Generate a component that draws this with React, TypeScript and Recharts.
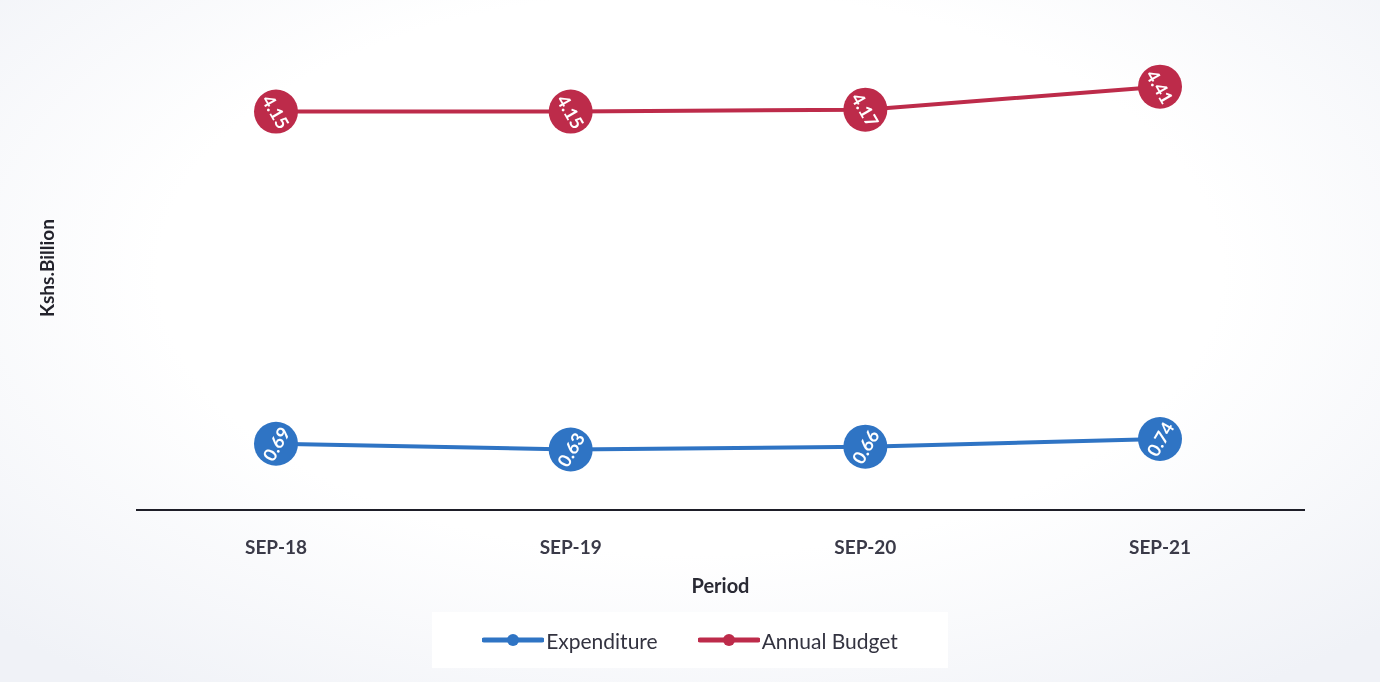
import React from "react";
import { LineChart, Line, XAxis, YAxis, Legend, Label } from "recharts";

const periods = ["SEP-18", "SEP-19", "SEP-20", "SEP-21"];
const expenditure = [0.69, 0.63, 0.66, 0.74];
const annualBudget = [4.15, 4.15, 4.17, 4.41];

const data = periods.map((p, i) => ({
  period: p,
  expenditure: expenditure[i],
  budget: annualBudget[i],
}));

const BLUE = "#2f74c4";
const RED = "#bd2b4a";
const FONT = "Lato, 'Open Sans', sans-serif";

const makeDot = (color: string, angle: number) => (props: any) => {
  const { cx, cy, value, index } = props;
  if (cx == null || cy == null) return null;
  return (
    <g key={`dot-${color}-${index}`}>
      <circle cx={cx} cy={cy} r={22} fill={color} />
      <text
        x={cx}
        y={cy}
        fill="#ffffff"
        fontSize={18}
        fontWeight={700}
        fontFamily={FONT}
        textAnchor="middle"
        dominantBaseline="central"
        transform={`rotate(${angle} ${cx} ${cy})`}
      >
        {Number(value).toFixed(2)}
      </text>
    </g>
  );
};

const LegendContent = (props: any) => {
  const items = [
    { label: "Expenditure", color: BLUE },
    { label: "Annual Budget", color: RED },
  ];
  return (
    <div
      style={{
        background: "#ffffff",
        width: 516,
        height: 56,
        display: "flex",
        alignItems: "center",
        justifyContent: "center",
        gap: 40,
        fontFamily: FONT,
        fontSize: 21,
        color: "#333340",
      }}
    >
      {items.map((it) => (
        <div key={it.label} style={{ display: "flex", alignItems: "center" }}>
          <svg width={62} height={14} style={{ marginRight: 2 }}>
            <line x1={2} y1={7} x2={60} y2={7} stroke={it.color} strokeWidth={5} strokeLinecap="round" />
            <circle cx={31} cy={7} r={6} fill={it.color} />
          </svg>
          <span>{it.label}</span>
        </div>
      ))}
    </div>
  );
};

export default function App() {
  return (
    <div
      style={{
        position: "fixed",
        left: 0,
        top: 0,
        width: 1380,
        height: 682,
        background:
          "radial-gradient(ellipse 70% 75% at 50% 40%, #ffffff 55%, #f0f2f7 100%)",
      }}
    >
      <LineChart
        width={1380}
        height={682}
        data={data}
        margin={{ top: 30, right: 75, left: 0, bottom: 26 }}
      >
        <XAxis
          dataKey="period"
          axisLine={{ stroke: "#1e1e28", strokeWidth: 2 }}
          tickLine={false}
          tickMargin={25}
          padding={{ left: 140, right: 145 }}
          tick={{ fill: "#3a3a48", fontSize: 19, fontWeight: 700, fontFamily: FONT }}
          height={90}
        >
          <Label
            content={(p: any) => {
              const vb = p.viewBox || {};
              return (
                <text
                  x={vb.x + vb.width / 2}
                  y={593}
                  textAnchor="middle"
                  fill="#2a2a34"
                  fontSize={20}
                  fontWeight={700}
                  fontFamily={FONT}
                >
                  Period
                </text>
              );
            }}
          />
        </XAxis>
        <YAxis
          domain={[0, 5]}
          width={136}
          tick={false}
          axisLine={false}
          tickLine={false}
        >
          <Label
            content={(p: any) => {
              const vb = p.viewBox || {};
              const cy = vb.y + vb.height / 2 - 2;
              return (
                <text
                  x={46}
                  y={cy}
                  textAnchor="middle"
                  dominantBaseline="central"
                  transform={`rotate(-90 46 ${cy})`}
                  fill="#23232c"
                  fontSize={19}
                  fontWeight={700}
                  fontFamily={FONT}
                >
                  Kshs.Billion
                </text>
              );
            }}
          />
        </YAxis>
        <Legend
          content={<LegendContent />}
          wrapperStyle={{ left: 432, top: 612, width: 516, height: 56, bottom: "auto" }}
        />
        <Line
          type="linear"
          dataKey="expenditure"
          name="Expenditure"
          stroke={BLUE}
          strokeWidth={4}
          dot={makeDot(BLUE, -60)}
          activeDot={false}
          isAnimationActive={false}
        />
        <Line
          type="linear"
          dataKey="budget"
          name="Annual Budget"
          stroke={RED}
          strokeWidth={4}
          dot={makeDot(RED, 60)}
          activeDot={false}
          isAnimationActive={false}
        />
      </LineChart>
    </div>
  );
}
